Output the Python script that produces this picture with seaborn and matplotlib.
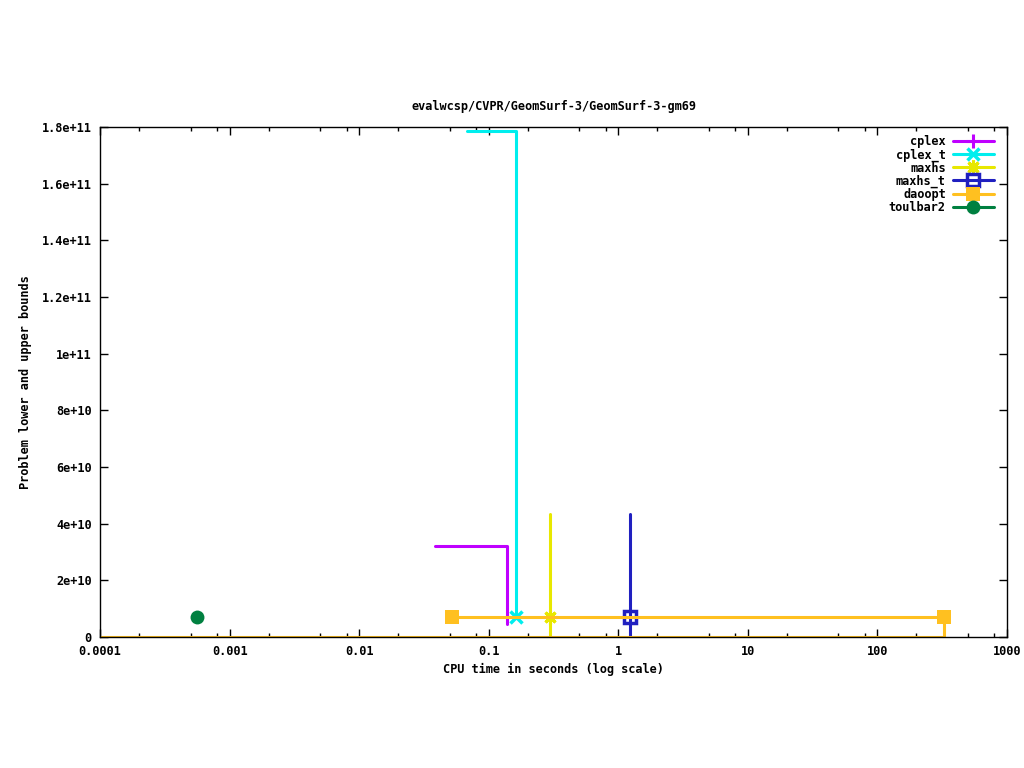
import matplotlib
matplotlib.use("Agg")
import matplotlib.pyplot as plt
import seaborn as sns
import pandas as pd
from matplotlib.ticker import FuncFormatter, LogLocator, FixedLocator, NullLocator
from matplotlib.lines import Line2D

sns.set_theme(style="ticks")
plt.rcParams['font.family'] = ['DejaVu Sans Mono', 'DejaVu Sans']
plt.rcParams['font.weight'] = 'bold'

title = "evalwcsp/CVPR/GeomSurf-3/GeomSurf-3-gm69"
xlabel = "CPU time in seconds (log scale)"
ylabel = "Problem lower and upper bounds"

# series polylines (time, value)
cplex_t = [0.0385, 0.138, 0.138]
cplex_v = [32.1e9, 32.1e9, 4.6e9]
cplex_mt = []
cplex_mv = []

cplext_t = [0.068, 0.162, 0.162]
cplext_v = [178.6e9, 178.6e9, 7.06e9]
cplext_mt = [0.162]
cplext_mv = [7.06e9]

maxhs_t = [0.296, 0.296]
maxhs_v = [0.0, 43.4e9]
maxhs_mt = [0.296]
maxhs_mv = [7.06e9]

maxhst_t = [1.23, 1.23]
maxhst_v = [0.0, 43.4e9]
maxhst_mt = [1.23]
maxhst_mv = [7.06e9]

daoopt_t = [0.052, 325, 325, 0.0001]
daoopt_v = [7.06e9, 7.06e9, 0.0, 0.0]
daoopt_mt = [0.052, 325]
daoopt_mv = [7.06e9, 7.06e9]

toulbar2_t = [0.00056]
toulbar2_v = [7.06e9]

names = ["cplex", "cplex_t", "maxhs", "maxhs_t", "daoopt", "toulbar2"]
colors = ["#bf00ff", "#00eeee", "#e8e800", "#2020c0", "#ffc020", "#008040"]

fig = plt.figure(figsize=(10.24, 7.68), dpi=100)
ax = fig.add_axes([100/1024, (768-637)/768, 907/1024, 510/768])

lw = 2.2
series = [
    (cplex_t, cplex_v, cplex_mt, cplex_mv, '+', dict(markersize=10, markeredgewidth=2.2)),
    (cplext_t, cplext_v, cplext_mt, cplext_mv, 'x', dict(markersize=9, markeredgewidth=2.5)),
    (maxhs_t, maxhs_v, maxhs_mt, maxhs_mv, (8, 2, 0), dict(markersize=10, markeredgewidth=2.2)),
    (maxhst_t, maxhst_v, maxhst_mt, maxhst_mv, 's', dict(markersize=8.5, markeredgewidth=2.5, markerfacecolor='none')),
    (daoopt_t, daoopt_v, daoopt_mt, daoopt_mv, 's', dict(markersize=9.5, markeredgewidth=0)),
    ([], [], toulbar2_t, toulbar2_v, 'o', dict(markersize=10, markeredgewidth=0)),
]

handles = []
for (lt, lv, mt, mv, mk, mkw), name, c in zip(series, names, colors):
    if lt:
        df = pd.DataFrame({"t": lt, "v": lv})
        sns.lineplot(data=df, x="t", y="v", sort=False, estimator=None,
                     color=c, linewidth=lw, ax=ax)
    if mt:
        dm = pd.DataFrame({"t": mt, "v": mv})
        ax.plot(dm["t"], dm["v"], linestyle='none', marker=mk, color=c,
                markeredgecolor=c, **mkw)
    handles.append(Line2D([], [], color=c, linewidth=lw, marker=mk,
                          markeredgecolor=c, **mkw))

ax.set_xscale('log')
ax.set_xlim(0.0001, 1000)
ax.set_ylim(0, 1.8e11)
ax.xaxis.set_major_locator(LogLocator(base=10, numticks=20))
ax.xaxis.set_minor_locator(LogLocator(base=10, subs=(2, 5, 8), numticks=100))
ax.xaxis.set_major_formatter(FuncFormatter(lambda v, p: '%g' % v))
ax.xaxis.set_minor_formatter(FuncFormatter(lambda v, p: ''))
ax.yaxis.set_major_locator(FixedLocator([i*2e10 for i in range(10)]))
ax.yaxis.set_minor_locator(NullLocator())
ax.yaxis.set_major_formatter(FuncFormatter(lambda v, p: '%g' % v))

fs = 8.6
ax.tick_params(which='both', direction='in', top=True, right=True,
               labelsize=fs, colors='black', width=1)
ax.tick_params(which='major', length=6, pad=6)
ax.tick_params(which='minor', length=3)
for s in ax.spines.values():
    s.set_color('black')
    s.set_linewidth(1)

ax.set_title(title, fontsize=fs, fontweight='bold', pad=12, color='black')
ax.set_xlabel(xlabel, fontsize=fs, fontweight='bold', labelpad=3, color='black')
ax.set_ylabel(ylabel, fontsize=fs, fontweight='bold', labelpad=7, color='black')

leg = ax.legend(handles, names, loc='upper right', markerfirst=False,
                bbox_to_anchor=(1 - 5/907, 1),
                frameon=False, fontsize=fs, handlelength=3.4, labelspacing=0.0,
                borderaxespad=0.3, handletextpad=0.6, borderpad=0.4)
for t in leg.get_texts():
    t.set_color('black')

fig.savefig("out.png", dpi=100)
